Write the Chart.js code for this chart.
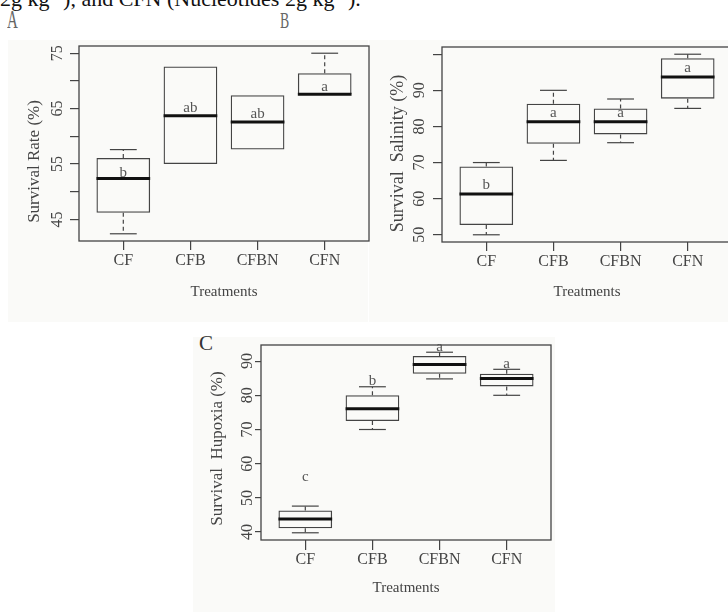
<!DOCTYPE html>
<html lang="en">
<head>
<meta charset="UTF-8">
<title>Survival boxplots</title>
<script src="https://cdn.jsdelivr.net/npm/chart.js"></script>
<style>
  body { margin: 0; background: #fff; overflow: hidden; }
  #page { position: relative; width: 728px; height: 612px; overflow: hidden; background: #fff;
          font-family: "Liberation Serif", serif; }
  .bg { position: absolute; background: #fafaf8; }
  .head { position: absolute; left: 0; top: -12px; font-size: 22px; line-height: 22px; color: #111; white-space: nowrap; }
  .tag { position: absolute; line-height: 1; transform-origin: left top; color: #666; }
  canvas { position: absolute; }
</style>
</head>
<body>
<div id="page">
  <div class="bg" style="left:8px;top:40px;width:360px;height:282px"></div>
  <div class="bg" style="left:369px;top:40px;width:359px;height:282px"></div>
  <div class="bg" style="left:193px;top:337px;width:362px;height:275px"></div>
  <div class="head">2g kg⁻¹), and CFN (Nucleotides 2g kg⁻¹).</div>
  <div class="tag" style="left:7px;top:7px;font-size:25px;transform:scaleX(0.6)">A</div>
  <div class="tag" style="left:280px;top:9px;font-size:23px;transform:scaleX(0.6)">B</div>
  <div class="tag" style="left:199px;top:333px;font-size:21px;color:#333">C</div>
  <canvas id="chartA" width="370" height="300" style="left:0;top:30px"></canvas>
  <canvas id="chartB" width="370" height="300" style="left:363px;top:31px"></canvas>
  <canvas id="chartC" width="370" height="300" style="left:182px;top:329px"></canvas>
</div>
<script>
const categories = ['CF', 'CFB', 'CFBN', 'CFN'];

// A: survival rate
const rateMin    = [42.4, 55.0, 57.6, 67.6];
const rateQ1     = [46.2, 55.0, 57.6, 67.6];
const rateMedian = [52.4, 63.7, 62.6, 67.6];
const rateQ3     = [56.1, 72.6, 67.4, 71.4];
const rateMax    = [57.6, 72.6, 67.4, 75.0];
const rateLetters = ['b', 'ab', 'ab', 'a'];
const rateLetterY = [52.7, 64.3, 63.3, 68.1];
const rateTicks = [45, 50, 55, 60, 65, 70, 75];
const rateTickLabels = ['45', '', '55', '', '65', '', '75'];

// B: survival salinity
const salMin    = [50.0, 70.6, 75.5, 85.0];
const salQ1     = [52.7, 75.2, 77.8, 87.7];
const salMedian = [61.3, 81.3, 81.3, 93.7];
const salQ3     = [68.9, 86.3, 85.0, 98.9];
const salMax    = [70.0, 90.0, 87.6, 100.0];
const salLetters = ['b', 'a', 'a', 'a'];
const salLetterY = [62.8, 82.7, 82.7, 95.0];
const salTicks = [50, 60, 70, 80, 90, 100];
const salTickLabels = ['50', '60', '70', '80', '90', ''];

// C: survival hypoxia
const hypMin    = [39.8, 70.0, 84.8, 80.0];
const hypQ1     = [41.1, 72.5, 86.3, 82.6];
const hypMedian = [43.8, 76.1, 89.0, 84.9];
const hypQ3     = [46.3, 80.0, 91.5, 86.3];
const hypMax    = [47.6, 82.5, 92.6, 87.6];
const hypLetters = ['c', 'b', 'a', 'a'];
const hypLetterY = [54.9, 82.9, 92.9, 88.1];
const hypTicks = [40, 50, 60, 70, 80, 90];
const hypTickLabels = ['40', '50', '60', '70', '80', '90'];

const SERIF = '"Liberation Serif", serif';
Chart.defaults.font.family = SERIF;

function line(ctx, x1, y1, x2, y2) {
    ctx.beginPath();
    ctx.moveTo(x1, y1);
    ctx.lineTo(x2, y2);
    ctx.stroke();
}

// whiskers, medians, letters, frame and rotated y texts
const boxExtras = {
    id: 'boxExtras',
    afterDatasetsDraw(chart, args, o) {
        const {ctx, scales: {y}} = chart;
        const s = o.series;
        ctx.save();
        chart.getDatasetMeta(0).data.forEach((bar, i) => {
            const cx = bar.x, half = bar.width / 2;
            ctx.strokeStyle = '#444';
            ctx.lineWidth = 1.2;
            [[s.q3[i], s.max[i]], [s.q1[i], s.min[i]]].forEach(([from, to]) => {
                const p1 = y.getPixelForValue(from), p2 = y.getPixelForValue(to);
                if (Math.abs(p2 - p1) < 0.5) return;
                ctx.setLineDash([4, 3]);
                line(ctx, cx, p1, cx, p2);
                ctx.setLineDash([]);
                line(ctx, cx - half / 2, p2, cx + half / 2, p2);
            });
            ctx.strokeStyle = '#111';
            ctx.lineWidth = 3;
            const pm = y.getPixelForValue(s.median[i]);
            line(ctx, cx - half, pm, cx + half, pm);

            ctx.fillStyle = '#555';
            ctx.font = '15px ' + SERIF;
            ctx.textAlign = 'center';
            ctx.textBaseline = 'alphabetic';
            ctx.fillText(s.letters[i], cx, y.getPixelForValue(s.letterY[i]));
        });
        ctx.restore();
    },
    afterDraw(chart, args, o) {
        const {ctx, chartArea: a, scales: {y}} = chart;
        ctx.save();
        ctx.strokeStyle = '#444';
        ctx.lineWidth = 1.3;
        ctx.strokeRect(a.left, a.top, a.right - a.left, a.bottom - a.top);

        ctx.fillStyle = '#444';
        ctx.textAlign = 'center';
        ctx.textBaseline = 'middle';
        ctx.font = '16px ' + SERIF;
        o.ticks.forEach((v, i) => {
            if (!o.tickLabels[i]) return;
            ctx.save();
            ctx.translate(a.left - o.labelOff, y.getPixelForValue(v));
            ctx.rotate(-Math.PI / 2);
            ctx.fillText(o.tickLabels[i], 0, 0);
            ctx.restore();
        });
        ctx.font = o.titleSize + 'px ' + SERIF;
        ctx.translate(a.left - o.titleOff, (a.top + a.bottom) / 2 + o.titleDy);
        ctx.rotate(-Math.PI / 2);
        ctx.fillText(o.title, 0, 0);
        ctx.restore();
    }
};

function makePanel(id, s, cfg) {
    const lo = Math.min(...s.min), hi = Math.max(...s.max);
    const pad = (hi - lo) * 0.04;
    const xPad = categories.length * 0.04;
    return new Chart(document.getElementById(id), {
        type: 'bar',
        data: {
            datasets: [{
                data: categories.map((c, i) => ({x: i + 1, y: [s.q1[i], s.q3[i]]})),
                backgroundColor: 'rgba(0,0,0,0)',
                borderColor: '#444',
                borderWidth: 1.3,
                borderSkipped: false,
                barPercentage: 0.8,
                categoryPercentage: 1
            }]
        },
        options: {
            responsive: false,
            animation: false,
            layout: {padding: {top: 16, right: 1, bottom: 0, left: 0}},
            plugins: {
                legend: {display: false},
                tooltip: {enabled: false},
                boxExtras: Object.assign({series: s}, cfg)
            },
            scales: {
                x: {
                    type: 'linear',
                    min: 0.5 - xPad,
                    max: categories.length + 0.5 + xPad,
                    offset: false,
                    afterBuildTicks: sc => { sc.ticks = categories.map((c, i) => ({value: i + 1})); },
                    afterFit: sc => { sc.height = 89; },
                    grid: {offset: false, drawOnChartArea: false, tickLength: cfg.xTick, color: '#444', lineWidth: 1.2},
                    border: {display: false},
                    ticks: {
                        padding: cfg.xLabelPad,
                        color: '#444',
                        font: {size: 16},
                        callback: v => categories[v - 1] || ''
                    },
                    title: {
                        display: true,
                        text: 'Treatments',
                        color: '#444',
                        font: {size: 15},
                        padding: {top: 0, bottom: cfg.xTitlePad}
                    }
                },
                y: {
                    min: lo - pad,
                    max: hi + pad,
                    afterBuildTicks: sc => { sc.ticks = cfg.ticks.map(v => ({value: v})); },
                    afterFit: sc => { sc.width = 79; },
                    grid: {drawOnChartArea: false, tickLength: cfg.yTick, color: '#444', lineWidth: 1.2},
                    border: {display: false},
                    ticks: {display: false}
                }
            }
        },
        plugins: [boxExtras]
    });
}

makePanel('chartA',
    {min: rateMin, q1: rateQ1, median: rateMedian, q3: rateQ3, max: rateMax, letters: rateLetters, letterY: rateLetterY},
    {ticks: rateTicks, tickLabels: rateTickLabels, title: 'Survival Rate (%)', titleSize: 17,
     labelOff: 21, titleOff: 44, titleDy: 18, yTick: 9, xTick: 9, xLabelPad: 1, xTitlePad: 29});

makePanel('chartB',
    {min: salMin, q1: salQ1, median: salMedian, q3: salQ3, max: salMax, letters: salLetters, letterY: salLetterY},
    {ticks: salTicks, tickLabels: salTickLabels, title: 'Survival  Salinity (%)', titleSize: 18,
     labelOff: 22, titleOff: 44, titleDy: 9, yTick: 9, xTick: 9, xLabelPad: 1, xTitlePad: 30});

makePanel('chartC',
    {min: hypMin, q1: hypQ1, median: hypMedian, q3: hypQ3, max: hypMax, letters: hypLetters, letterY: hypLetterY},
    {ticks: hypTicks, tickLabels: hypTickLabels, title: 'Survival  Hupoxia (%)', titleSize: 17,
     labelOff: 13, titleOff: 43, titleDy: 6, yTick: 6, xTick: 10, xLabelPad: 0, xTitlePad: 32});
</script>
</body>
</html>
